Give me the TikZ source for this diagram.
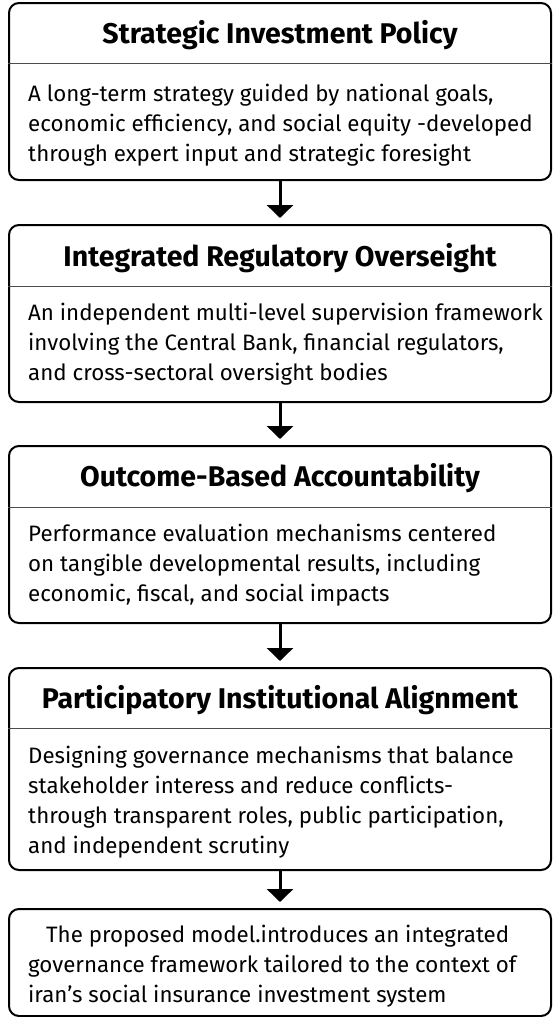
\documentclass[tikz,border=0pt]{standalone}
\usepackage{fontspec}
\setmainfont{Fira Sans}
\usepackage{tikz}
\usetikzlibrary{arrows.meta,positioning}

\begin{document}
\begin{tikzpicture}[
    x=1pt, y=1pt,
    font=\fontsize{22.3}{30}\selectfont,
    node distance=43pt,
    box/.style={draw, line width=2pt, rounded corners=10pt, minimum width=542pt},
    head/.style={font=\fontsize{28.5}{32}\selectfont\bfseries, inner sep=0pt},
    body/.style={align=left, inner sep=0pt, anchor=base west},
    sep/.style={line width=0.9pt, black!70},
    line/.style={-{Triangle[width=26pt,length=13pt]}, line width=3pt, shorten >=6pt}
]
\useasboundingbox (0,0) rectangle (552,-1017);
\node[box, minimum height=177pt] (policy) at (280,-91.5) {};
\node[box, minimum height=177pt, below=of policy] (oversight) {};
\node[box, minimum height=177pt, below=42pt of oversight] (outcome) {};
\node[box, minimum height=202pt, below=of outcome] (alignment) {};
\node[box, minimum height=107pt, below=37pt of alignment] (model) {};
\node[head] (policyhead) at ([yshift=-33pt]policy.north) {Strategic Investment Policy};
\node[head] (oversighthead) at ([yshift=-34pt]oversight.north) {Integrated Regulatory Overseight};
\node[head] (outcomehead) at ([yshift=-33pt]outcome.north) {Outcome-Based Accountability};
\node[head] (alignmenthead) at ([yshift=-33pt]alignment.north) {Participatory Institutional Alignment};
\draw[sep] ([yshift=-61pt]policy.north west) -- ([yshift=-61pt]policy.north east);
\draw[sep] ([yshift=-62pt]oversight.north west) -- ([yshift=-62pt]oversight.north east);
\draw[sep] ([yshift=-62pt]outcome.north west) -- ([yshift=-62pt]outcome.north east);
\draw[sep] ([yshift=-61pt]alignment.north west) -- ([yshift=-61pt]alignment.north east);
\node[body] (policytext) at ([xshift=20pt, yshift=-159pt]policy.north west) {A long-term strategy guided by national goals,\\ economic efficiency, and social equity -developed\\ through expert input and strategic foresight};
\node[body] (oversighttext) at ([xshift=20pt, yshift=-156pt]oversight.north west) {An independent multi-level supervision framework\\ involving the Central Bank, financial regulators,\\ and cross-sectoral oversight bodies};
\node[body] (outcometext) at ([xshift=20pt, yshift=-156pt]outcome.north west) {Performance evaluation mechanisms centered\\ on tangible developmental results, including\\ economic, fiscal, and social impacts};
\node[body] (alignmenttext) at ([xshift=20pt, yshift=-186pt]alignment.north west) {Designing governance mechanisms that balance\\ stakeholder interess and reduce conflicts-\\ through transparent roles, public participation,\\ and independent scrutiny};
\node[body] (modeltext) at ([xshift=20pt, yshift=-94pt]model.north west) {\hspace*{18pt}The proposed model.introduces an integrated\\ governance framework tailored to the context of\\ iran’s social insurance investment system};
\draw[line] (policy) -- (oversight);
\draw[line] (oversight) -- (outcome);
\draw[line] (outcome) -- (alignment);
\draw[line] (alignment) -- (model);
\end{tikzpicture}
\end{document}
